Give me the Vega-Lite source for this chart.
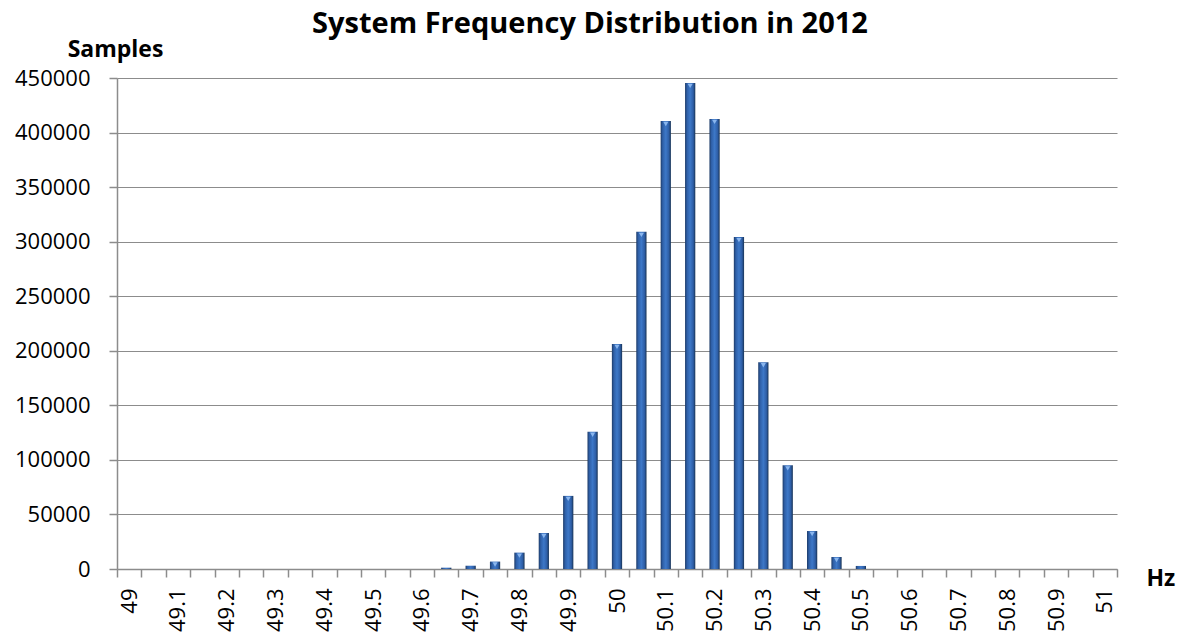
{
  "$schema": "https://vega.github.io/schema/vega-lite/v6.json",
  "width": 1000,
  "height": 491,
  "autosize": {"type": "none"},
  "padding": {"left": 117, "top": 78, "right": 67, "bottom": 67},
  "background": "white",
  "title": {
    "text": "System Frequency Distribution in 2012",
    "font": "Open Sans",
    "fontSize": 29,
    "fontWeight": "bold",
    "color": "black",
    "anchor": "middle",
    "baseline": "alphabetic",
    "dx": -27,
    "offset": -24
  },
  "config": {
    "view": {"stroke": null},
    "axis": {
      "labelFont": "Open Sans",
      "labelFontSize": 22,
      "labelColor": "black",
      "titleFont": "Open Sans",
      "titleFontSize": 23,
      "titleFontWeight": "bold",
      "titleColor": "black",
      "domainColor": "#8c8c8c",
      "domainWidth": 1.5,
      "tickColor": "#8c8c8c",
      "tickWidth": 1.5,
      "tickSize": 8,
      "gridColor": "#8c8c8c",
      "gridWidth": 1.2
    }
  },
  "data": {
    "values": [
      {"hz": "49", "samples": 0},
      {"hz": "49.05", "samples": 0},
      {"hz": "49.1", "samples": 0},
      {"hz": "49.15", "samples": 0},
      {"hz": "49.2", "samples": 0},
      {"hz": "49.25", "samples": 0},
      {"hz": "49.3", "samples": 0},
      {"hz": "49.35", "samples": 0},
      {"hz": "49.4", "samples": 0},
      {"hz": "49.45", "samples": 0},
      {"hz": "49.5", "samples": 0},
      {"hz": "49.55", "samples": 0},
      {"hz": "49.6", "samples": 0},
      {"hz": "49.65", "samples": 1200},
      {"hz": "49.7", "samples": 3000},
      {"hz": "49.75", "samples": 6800},
      {"hz": "49.8", "samples": 15000},
      {"hz": "49.85", "samples": 33000},
      {"hz": "49.9", "samples": 67000},
      {"hz": "49.95", "samples": 125800},
      {"hz": "50", "samples": 206300},
      {"hz": "50.05", "samples": 309000},
      {"hz": "50.1", "samples": 410600},
      {"hz": "50.15", "samples": 445500},
      {"hz": "50.2", "samples": 412500},
      {"hz": "50.25", "samples": 304200},
      {"hz": "50.3", "samples": 189500},
      {"hz": "50.35", "samples": 95000},
      {"hz": "50.4", "samples": 34800},
      {"hz": "50.45", "samples": 11000},
      {"hz": "50.5", "samples": 2800},
      {"hz": "50.55", "samples": 0},
      {"hz": "50.6", "samples": 0},
      {"hz": "50.65", "samples": 0},
      {"hz": "50.7", "samples": 0},
      {"hz": "50.75", "samples": 0},
      {"hz": "50.8", "samples": 0},
      {"hz": "50.85", "samples": 0},
      {"hz": "50.9", "samples": 0},
      {"hz": "50.95", "samples": 0},
      {"hz": "51", "samples": 0}
    ]
  },
  "encoding": {
    "x": {
      "field": "hz",
      "type": "ordinal",
      "sort": null,
      "scale": {"paddingInner": 0, "paddingOuter": 0},
      "axis": {
        "title": "Hz",
        "titleX": 1029,
        "titleY": 16,
        "titleAlign": "left",
        "titleBaseline": "alphabetic",
        "titleAngle": 0,
        "labelAngle": -90,
        "labelAlign": "right",
        "labelBaseline": "middle",
        "labelPadding": 11,
        "tickBand": "extent",
        "grid": false,
        "labelExpr": "(round(toNumber(datum.value) * 100) % 10 == 0) ? datum.value : ''"
      }
    },
    "y": {
      "field": "samples",
      "type": "quantitative",
      "scale": {"domain": [0, 450000], "nice": false},
      "axis": {
        "title": "Samples",
        "titleAngle": 0,
        "titleX": -2,
        "titleY": -22,
        "titleAlign": "center",
        "titleBaseline": "alphabetic",
        "values": [0, 50000, 100000, 150000, 200000, 250000, 300000, 350000, 400000, 450000],
        "format": "d",
        "labelPadding": 19,
        "grid": true
      }
    }
  },
  "layer": [
    {
      "mark": {
        "type": "bar",
        "width": {"band": 0.42},
        "color": {
          "gradient": "linear",
          "x1": 0, "x2": 1, "y1": 0, "y2": 0,
          "stops": [
            {"offset": 0, "color": "#1d3b68"},
            {"offset": 0.2, "color": "#2f60a8"},
            {"offset": 0.5, "color": "#3d78c8"},
            {"offset": 0.8, "color": "#2e5ea6"},
            {"offset": 1, "color": "#183354"}
          ]
        }
      }
    },
    {
      "transform": [{"filter": "datum.samples >= 5000"}],
      "mark": {
        "type": "point",
        "shape": "triangle-down",
        "filled": true,
        "size": 26,
        "color": "#8ab6ee",
        "opacity": 1,
        "yOffset": 3
      }
    }
  ]
}
